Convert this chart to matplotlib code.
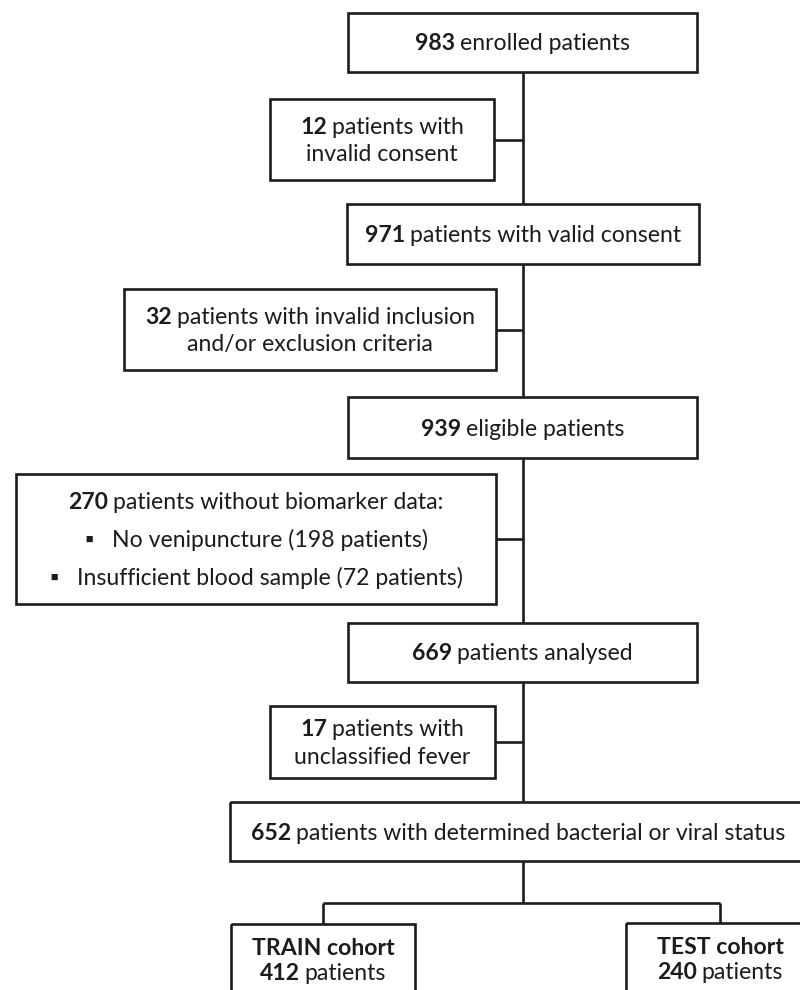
import matplotlib
matplotlib.use("Agg")
import matplotlib.pyplot as plt
from matplotlib.patches import Rectangle

# flow counts and labels
main_counts = [983, 971, 939, 669, 652]
main_labels = ["enrolled patients", "patients with valid consent", "eligible patients",
               "patients analysed", "patients with determined bacterial or viral status"]
excl_counts = [12, 32, 270, 17]
excl_labels = [["patients with", "invalid consent"],
               ["patients with invalid inclusion", "and/or exclusion criteria"],
               ["patients without biomarker data:"],
               ["patients with", "unclassified fever"]]
reason_labels = ["No venipuncture", "Insufficient blood sample"]
reason_counts = [198, 72]
cohort_names = ["TRAIN", "TEST"]
cohort_counts = [412, 240]

# layout in pixels (x0, x1, y0, y1), y grows downward
main_boxes = [(348, 697, 13, 72), (347, 699, 204, 264), (348, 697, 397, 458),
              (348, 697, 623, 682), (230, 806, 802, 861)]
excl_boxes = [(270, 494, 99, 180), (124, 496, 289, 370), (16, 496, 474, 604),
              (270, 495, 706, 778)]
excl_gap = [27, 28, 38, 27]
cohort_boxes = [(231, 415, 924, 1010), (626, 814, 923, 1010)]
trunk_x = 523
split_y = 903

FAM = ["Lato", "DejaVu Sans"]
FS = 16.6
INK = "#1c1c1c"
LW = 1.9

fig = plt.figure(figsize=(8, 9.9), dpi=100)
ax = fig.add_axes([0, 0, 1, 1])
ax.set_xlim(0, 800)
ax.set_ylim(990, 0)
ax.axis("off")
renderer = fig.canvas.get_renderer()


def text_line(xc, yc, segments, gap=None):
    texts, widths = [], []
    for s, bold in segments:
        t = ax.text(0, yc + 8, s, fontsize=FS, family=FAM, color=INK,
                    fontweight="bold" if bold else "normal", ha="left", va="baseline")
        texts.append(t)
        widths.append(t.get_window_extent(renderer).width)
    if gap is None:
        gap = FS * 0.3
    total = sum(widths) + gap * (len(texts) - 1)
    x = xc - total / 2
    for t, w in zip(texts, widths):
        t.set_x(x)
        x += w + gap


def box(b):
    x0, x1, y0, y1 = b
    ax.add_patch(Rectangle((x0, y0), x1 - x0, y1 - y0, fill=False, ec=INK, lw=LW))


def seg(xa, ya, xb, yb):
    ax.plot([xa, xb], [ya, yb], color=INK, lw=LW, solid_capstyle="butt")


# main column
for b, n, lab in zip(main_boxes, main_counts, main_labels):
    box(b)
    text_line((b[0] + b[1]) / 2, (b[2] + b[3]) / 2, [(str(n), True), (lab, False)])
for a, b in zip(main_boxes[:-1], main_boxes[1:]):
    seg(trunk_x, a[3], trunk_x, b[2])

# exclusion boxes
for b, n, lab, g in zip(excl_boxes, excl_counts, excl_labels, excl_gap):
    box(b)
    xc = (b[0] + b[1]) / 2
    nlines = len(lab) + (len(reason_labels) if n == 270 else 0)
    y = (b[2] + b[3]) / 2 - g * (nlines - 1) / 2
    for i, line in enumerate(lab):
        parts = [(str(n), True), (line, False)] if i == 0 else [(line, False)]
        text_line(xc, y, parts)
        y += g
    if n == 270:
        for r, c in zip(reason_labels, reason_counts):
            text_line(xc, y, [("\u25aa", False), (f"{r} ({c} patients)", False)], gap=18)
            y += g
    seg(b[1], (b[2] + b[3]) / 2, trunk_x, (b[2] + b[3]) / 2)

# split into cohorts
last = main_boxes[-1]
seg(trunk_x, last[3], trunk_x, split_y)
cx = [(b[0] + b[1]) / 2 for b in cohort_boxes]
seg(cx[0], split_y, cx[1], split_y)
for b, name, n, c in zip(cohort_boxes, cohort_names, cohort_counts, cx):
    seg(c, split_y, c, b[2])
    box(b)
    text_line(c, b[2] + 23, [(name + " cohort", True)])
    text_line(c, b[2] + 48, [(str(n), True), ("patients", False)])

fig.savefig("out.png", dpi=100, facecolor="white")
